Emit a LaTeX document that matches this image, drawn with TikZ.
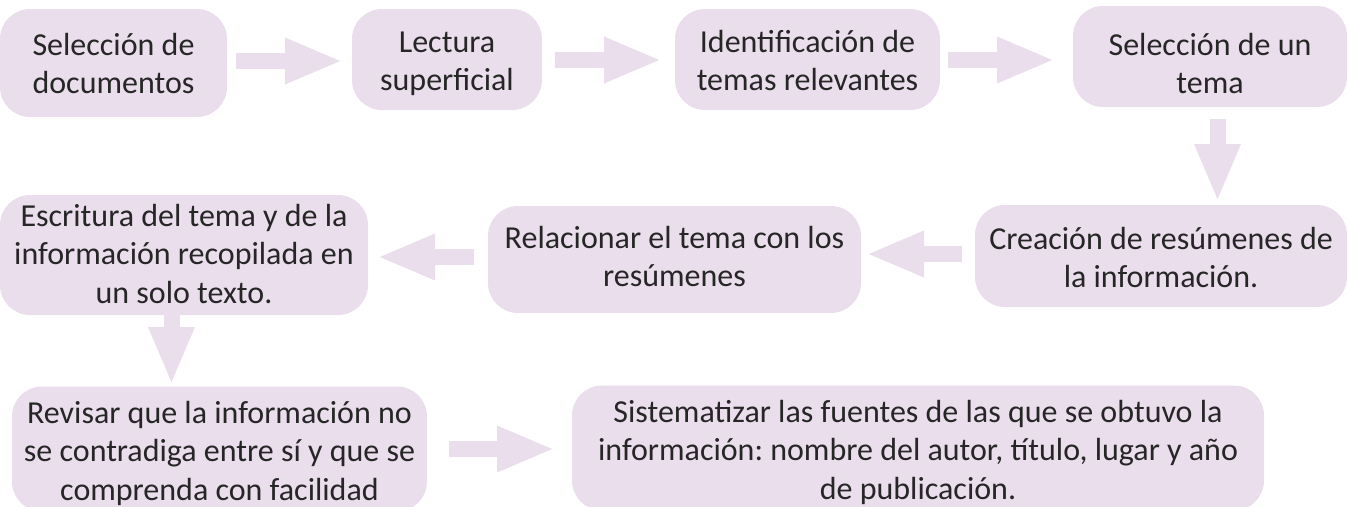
\documentclass[tikz,border=0pt]{standalone}
\usepackage{fontspec}
\setmainfont{Carlito}
\usetikzlibrary{arrows.meta}
\definecolor{boxfill}{RGB}{234,221,236}
\definecolor{txt}{RGB}{38,38,38}
\frenchspacing
\begin{document}
\begin{tikzpicture}[x=1pt,y=-1pt,
  stepbox/.style={fill=boxfill, rounded corners=30pt, inner sep=0pt, align=center,
    text=txt, font=\fontsize{32}{38.5}\selectfont,
    execute at end node={\rule[-11.5pt]{0pt}{0pt}}},
  top/.style={execute at begin node={\rule{0pt}{#1}}},
  blk/.style={draw=boxfill, line width=16pt, line cap=butt,
    -{Triangle[width=42pt,length=58pt]}}]
\useasboundingbox (0,0) rectangle (1348,506);
% boxes
\node[stepbox, top=72.5pt, minimum width=227pt, minimum height=108pt] (b1) at (113.5,63) {Selección de\\documentos};
\node[stepbox, top=73.5pt, minimum width=190pt, minimum height=101pt] (b2) at (447,59.5) {Lectura\\superficial};
\node[stepbox, top=73.5pt, minimum width=265pt, minimum height=101pt] (b3) at (807.5,59.5) {Identificación de\\temas relevantes};
\node[stepbox, top=85.5pt, minimum width=274pt, minimum height=101pt] (b4) at (1210,56.5) {Selección de un\\tema};
\node[stepbox, top=74.5pt, minimum width=372pt, minimum height=102pt] (b5) at (1161,256) {Creación de resúmenes de\\la información.};
\node[stepbox, top=65.5pt, minimum width=373pt, minimum height=107pt] (b6) at (674.5,259.5) {Relacionar el tema con los\\resúmenes};
\node[stepbox, top=107.5pt, minimum width=368pt, minimum height=120pt] (b7) at (184,255) {Escritura del tema y de la\\información recopilada en\\un solo texto.};
\node[stepbox, top=113.5pt, minimum width=415pt, minimum height=116pt] (b8) at (219.5,449) {Revisar que la información no\\se contradiga entre sí y que se\\comprenda con facilidad};
\node[stepbox, top=113.5pt, minimum width=692pt, minimum height=117pt] (b9) at (918,448) {Sistematizar las fuentes de las que se obtuvo la\\información: nombre del autor, título, lugar y año\\de publicación.};
% arrow end points
\coordinate (a1s) at (236,61);   \coordinate (a1e) at (343,61);
\coordinate (a2s) at (555,60);   \coordinate (a2e) at (662,60);
\coordinate (a3s) at (948,60);   \coordinate (a3e) at (1055,60);
\coordinate (a4s) at (1217.5,119); \coordinate (a4e) at (1217.5,202);
\coordinate (a5s) at (962,254);  \coordinate (a5e) at (866,254);
\coordinate (a6s) at (474,257);  \coordinate (a6e) at (377,257);
\coordinate (a7s) at (171.5,315); \coordinate (a7e) at (171.5,385);
\coordinate (a8s) at (449,449);  \coordinate (a8e) at (555,449);
\draw[blk] (a1s) -- (a1e);
\draw[blk] (a2s) -- (a2e);
\draw[blk] (a3s) -- (a3e);
\draw[blk] (a4s) -- (a4e);
\draw[blk] (a5s) -- (a5e);
\draw[blk] (a6s) -- (a6e);
\draw[blk] (a7s) -- (a7e);
\draw[blk] (a8s) -- (a8e);
\end{tikzpicture}
\end{document}
